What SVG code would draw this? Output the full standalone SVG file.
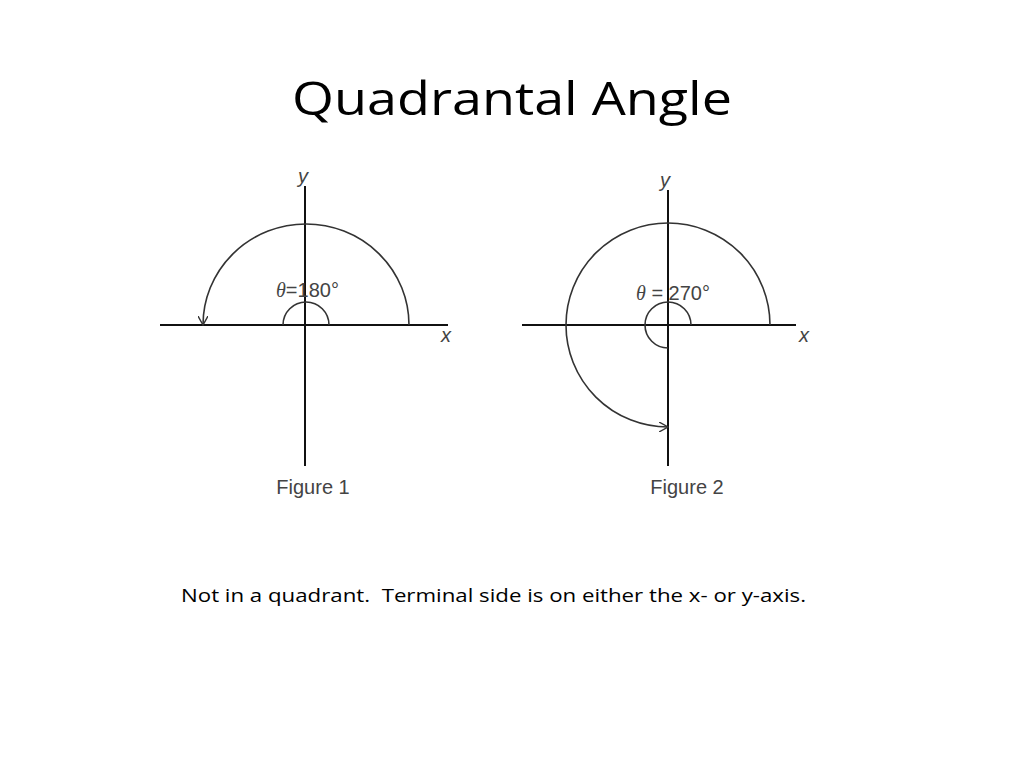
<svg xmlns="http://www.w3.org/2000/svg" width="1024" height="768" viewBox="0 0 1024 768">
<style>
.ax{stroke:#111;stroke-width:2;fill:none}
.arc{stroke:#333;stroke-width:1.6;fill:none}
.lb{font-family:"Liberation Sans",Arial,sans-serif;fill:#444;font-size:20px}
</style>
<defs>
<marker id="ah" viewBox="0 0 10 10" refX="9" refY="5" markerWidth="10" markerHeight="10" orient="auto" markerUnits="userSpaceOnUse">
<path d="M0,0 L9,5 L0,10" fill="none" stroke="#333" stroke-width="1.4"/>
</marker>
</defs>
<rect width="1024" height="768" fill="#fff"/>
<text x="512" y="115" text-anchor="middle" font-family="'Open Sans',sans-serif" font-size="46" fill="#000" textLength="440" lengthAdjust="spacingAndGlyphs">Quadrantal Angle</text>
<g id="figure1">
<line class="ax" x1="305" y1="186" x2="305" y2="466"/>
<line class="ax" x1="160" y1="325" x2="448" y2="325"/>
<path class="arc" d="M409,325 A103,101 0 1 0 203,325" marker-end="url(#ah)"/>
<path class="arc" d="M283,325 A23,23 0 1 1 329,325"/>
<text class="lb" x="298" y="183" font-style="italic">y</text>
<text class="lb" x="441" y="342" font-style="italic">x</text>
<text class="lb" x="276" y="297"><tspan font-style="italic" font-family="'Liberation Serif',serif">θ</tspan>=180°</text>
<text class="lb" x="313" y="494" text-anchor="middle">Figure 1</text>
</g>
<g id="figure2">
<line class="ax" x1="668" y1="190" x2="668" y2="466"/>
<line class="ax" x1="522" y1="325" x2="796" y2="325"/>
<path class="arc" d="M770,325 A102,102 0 1 0 668,427" marker-end="url(#ah)"/>
<path class="arc" d="M691,325 A23,23 0 1 0 668,348"/>
<text class="lb" x="660" y="187" font-style="italic">y</text>
<text class="lb" x="799" y="342" font-style="italic">x</text>
<text class="lb" x="636" y="300"><tspan font-style="italic" font-family="'Liberation Serif',serif">θ</tspan> = 270°</text>
<text class="lb" x="687" y="494" text-anchor="middle">Figure 2</text>
</g>
<text x="181" y="602" font-family="'Open Sans',sans-serif" font-size="19" fill="#000" textLength="625" lengthAdjust="spacingAndGlyphs" xml:space="preserve">Not in a quadrant.  Terminal side is on either the x- or y-axis.</text>
</svg>
